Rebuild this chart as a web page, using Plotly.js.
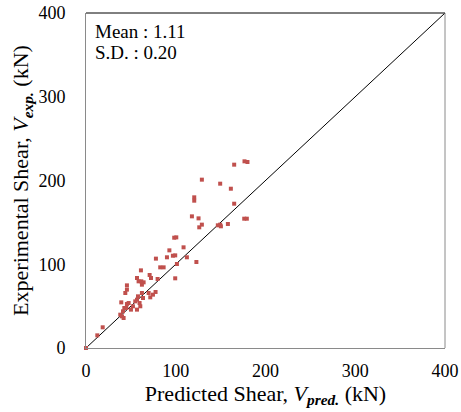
<!DOCTYPE html>
<html><head><meta charset="utf-8">
<script src="https://cdn.plot.ly/plotly-3.0.1.min.js"></script>
<style>html,body{margin:0;padding:0;background:#fff}#chart{width:461px;height:412px}</style>
</head><body><div id="chart"></div>
<script>
const predicted = [0,12.6,18.6,39.3,38.2,41.2,42.7,44.9,40.1,41.9,45.6,47.5,43.8,45.6,45.6,50.1,52.3,54.9,56.8,56.8,57.9,59.7,60.5,56.8,58.6,61.2,61.6,62.3,64.2,62.3,63.5,69.8,70.9,72.4,71.6,74.6,77.5,77.9,79.8,82.7,86.5,90.2,92.9,96.8,99.4,98.3,100.6,99.4,101.3,108.7,112.4,118.0,120.6,120.6,123.0,125.4,126.2,129.1,129.1,146.9,149.5,150.3,149.5,158.1,161.4,165.1,165.1,176.3,179.2,176.6,179.9];
const experimental = [0,15.1,24.7,54.5,39.8,43.8,47.8,47.8,37.8,35.8,52.5,53.7,65.7,69.7,74.8,45.8,49.8,55.7,57.7,45.8,61.7,53.7,49.8,83.6,79.6,92.7,79.6,75.6,78.4,65.7,59.7,65.7,87.2,83.6,60.5,63.7,66.9,106.7,82.4,96.3,96.3,108.3,116.6,110.2,110.6,131.7,132.1,83.2,100.3,120.2,108.3,157.2,179.9,175.9,102.7,154.8,144.1,147.3,201.0,146.5,147.3,145.3,196.2,148.1,190.2,172.3,218.9,154.4,154.4,222.9,222.1];
const lineX = [0,400];
const lineY = [0,400];
const tickVals = [0,100,200,300,400];
const statLines = ["Mean : 1.11","S.D. : 0.20"];

const FAM = "Liberation Serif, Times New Roman, serif";
const f = (s)=>({family:FAM, size:s, color:"#000"});
const data = [
  {x:lineX, y:lineY, mode:"lines", line:{color:"#000", width:1}, hoverinfo:"skip", showlegend:false, cliponaxis:false},
  {x:predicted, y:experimental, mode:"markers", type:"scatter", cliponaxis:false,
   marker:{symbol:"square", size:4, color:"#C0504D"}, showlegend:false}
];
const axisBase = {range:[0,400], tickvals:tickVals, showgrid:false, zeroline:false,
  showline:true, linecolor:"#8a8a8a", linewidth:1, ticks:"", tickfont:f(18)};
const layout = {
  width:461, height:412, margin:{l:86,r:16,t:13,b:64},
  paper_bgcolor:"#fff", plot_bgcolor:"#fff", font:f(18),
  xaxis:Object.assign({}, axisBase, {ticklabelstandoff:6,
    title:{text:"Predicted Shear, <i>V</i><sub><b><i>pred.</i></b></sub> (kN)", font:f(22), standoff:4}}),
  yaxis:Object.assign({}, axisBase, {ticklabelstandoff:16,
    title:{text:"Experimental Shear, <i>V</i><sub><b><i>exp.</i></b></sub> (kN)", font:f(22), standoff:3}}),
  shapes:[
    {type:"line", xref:"paper", yref:"paper", x0:0, x1:1, y0:1, y1:1, line:{color:"#000", width:1}},
    {type:"line", xref:"paper", yref:"paper", x0:1, x1:1, y0:0, y1:1, line:{color:"#8a8a8a", width:1}}
  ],
  annotations: statLines.map((t,i)=>({text:t, xref:"paper", yref:"paper", x:0.02, y:0.982 - i*0.063,
    xanchor:"left", yanchor:"top", showarrow:false, font:f(19)}))
};
Plotly.newPlot("chart", data, layout, {displayModeBar:false, staticPlot:true});
</script></body></html>
